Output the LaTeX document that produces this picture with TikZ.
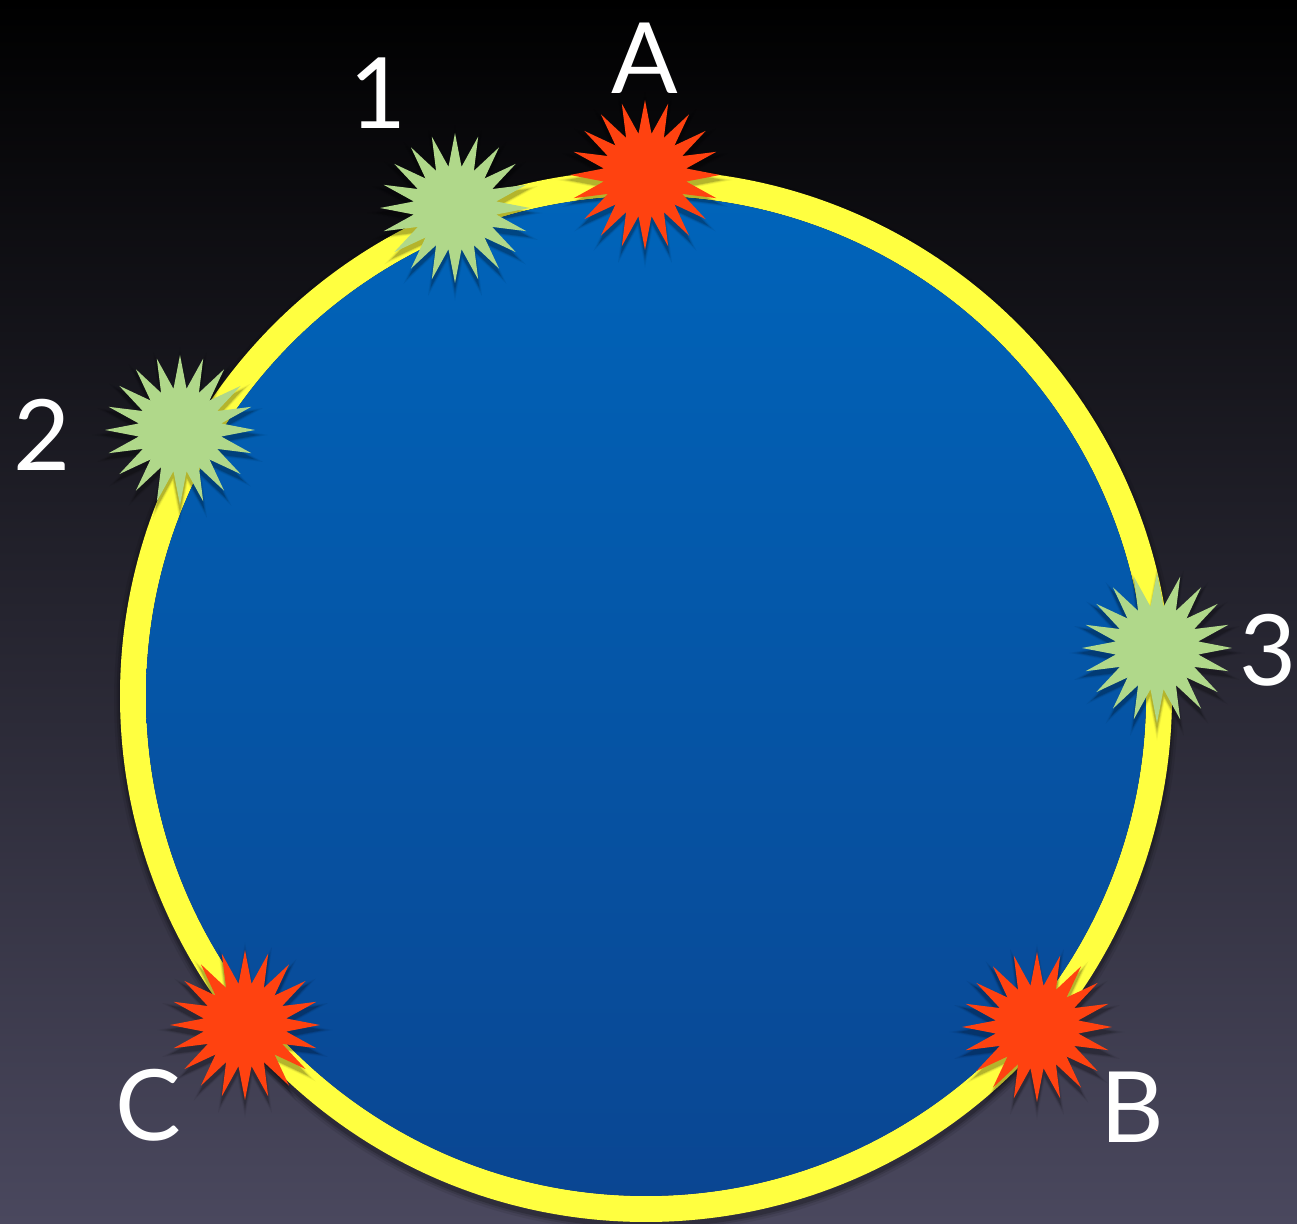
\documentclass[tikz,border=0pt]{standalone}
\usepackage{fontspec}
\setmainfont{Lato}
\usetikzlibrary{shapes.geometric}
\definecolor{starred}{RGB}{255,66,16}
\definecolor{stargreen}{RGB}{176,216,138}
\definecolor{ringyellow}{RGB}{255,255,64}
\definecolor{bluetop}{RGB}{0,100,186}
\definecolor{bluebot}{RGB}{10,70,146}
\definecolor{bgmid}{RGB}{20,20,36}
\definecolor{bgbot}{RGB}{74,72,94}
\tikzset{
  starnode/.style={star, star points=20, star point ratio=1.8, minimum size=15mm, inner sep=0pt, draw=none},
  lbl/.style={text=white, font=\fontsize{28}{30}\selectfont, inner sep=0pt}
}
\begin{document}
\begin{tikzpicture}[x=0.1mm, y=-0.1mm]
\useasboundingbox (0,0) rectangle (1297,1224);
\shade[top color=black, middle color=bgmid, bottom color=bgbot] (0,0) rectangle (1297,1224);
% ring shadow
\foreach \w/\o in {38/0.08,33/0.12,29/0.18}{
  \draw[black, opacity=\o, line width=\w*0.1mm] (646,700) circle[radius=513];
}
% ring and disc
\draw[ringyellow, line width=2.6mm] (646,696) circle[radius=513];
\shade[top color=bluetop, bottom color=bluebot] (646,696) circle[radius=500];
% star shadows
\foreach \x/\y in {645/175, 455/208, 180/430, 1157/648, 245/1025, 1037/1027}{
  \foreach \s/\o in {17.5/0.06, 16.5/0.1, 15.6/0.16}{
    \node[starnode, fill=black, opacity=\o, minimum size=\s mm] at (\x,\y+5) {};
  }
}
% stars
\node[starnode, fill=starred] (A) at (645,175) {};
\node[starnode, fill=stargreen] (s1) at (455,208) {};
\node[starnode, fill=stargreen] (s2) at (180,430) {};
\node[starnode, fill=stargreen] (s3) at (1157,648) {};
\node[starnode, fill=starred] (C) at (245,1025) {};
\node[starnode, fill=starred] (B) at (1037,1027) {};
% labels
\node[lbl] (lA) at (645,58) {A};
\node[lbl] (l1) at (378,93) {1};
\node[lbl] (l2) at (42,435) {2};
\node[lbl] (l3) at (1268,650) {3};
\node[lbl] (lC) at (148,1105) {C};
\node[lbl] (lB) at (1132,1107) {B};
\end{tikzpicture}
\end{document}
